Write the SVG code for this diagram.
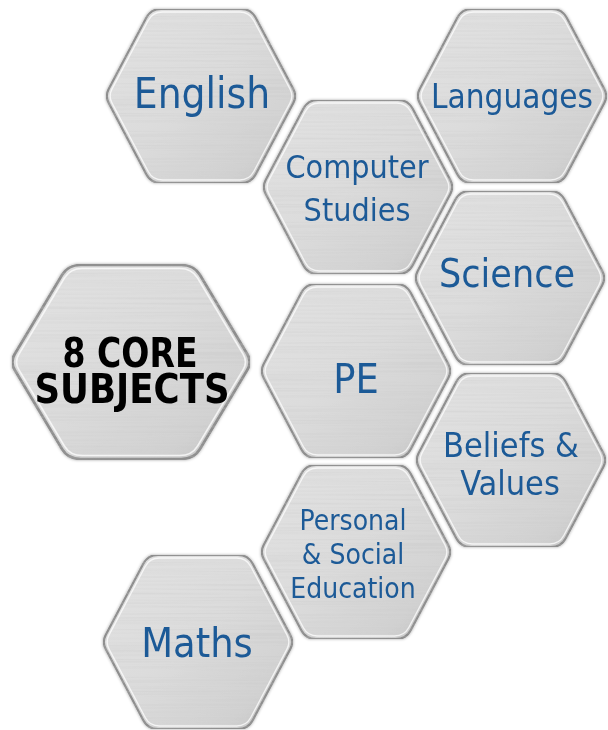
<svg xmlns="http://www.w3.org/2000/svg" xmlns:xlink="http://www.w3.org/1999/xlink" width="608" height="730" viewBox="0 0 608 730">
<defs>
  <linearGradient id="metal" x1="0" y1="0" x2="1" y2="1">
    <stop offset="0" stop-color="#e2e2e2"/>
    <stop offset="0.45" stop-color="#dcdcdc"/>
    <stop offset="0.8" stop-color="#d2d2d2"/>
    <stop offset="1" stop-color="#c4c4c4"/>
  </linearGradient>
  <filter id="brush" x="0" y="0" width="1" height="1">
    <feTurbulence type="fractalNoise" baseFrequency="0.004 0.45" numOctaves="2" seed="4" result="n"/>
    <feColorMatrix in="n" type="matrix" values="0 0 0 0 0.55  0 0 0 0 0.55  0 0 0 0 0.55  0.7 0 0 0 -0.3" result="g"/>
    <feComposite in="g" in2="SourceGraphic" operator="in" result="t"/>
    <feMerge><feMergeNode in="SourceGraphic"/><feMergeNode in="t"/></feMerge>
  </filter>
  <filter id="shadow" x="-10%" y="-10%" width="120%" height="120%">
    <feDropShadow dx="0" dy="0" stdDeviation="1.6" flood-color="#000" flood-opacity="0.35"/>
  </filter>
  <path id="hex" d="M -40,-87 L 40,-87 Q 50,-87 54.7,-78.2 L 92.3,-7.1 Q 96,0 92.3,7.1 L 54.7,78.2 Q 50,87 40,87 L -40,87 Q -50,87 -54.7,78.2 L -92.3,7.1 Q -96,0 -92.3,-7.1 L -54.7,-78.2 Q -50,-87 -40,-87 Z"/>
  <g id="tile">
    <use xlink:href="#hex" href="#hex" class="plate"/>
    <use xlink:href="#hex" href="#hex" class="rim" transform="scale(0.965)"/>
  </g>
</defs>
<style>
  .plate { fill: url(#metal); stroke: #8e8e8e; stroke-width: 2.2; filter: url(#brush); }
  .rim { fill: none; stroke: #ffffff; stroke-opacity: 0.75; stroke-width: 1.4; }
  .node { filter: url(#shadow); }
  .lbl { font-family: "DejaVu Sans Condensed", "DejaVu Sans", Tahoma, sans-serif; font-stretch: condensed; fill: #1d5a97; text-anchor: middle; }
  .core { font-family: "DejaVu Sans Condensed", "DejaVu Sans", Tahoma, sans-serif; font-stretch: condensed; font-weight: bold; fill: #000; text-anchor: middle; font-size: 41px; }
</style>
<rect width="608" height="730" fill="#ffffff"/>
<g id="connectors"/>
<g id="english" class="node">
  <use href="#tile" xlink:href="#tile" transform="translate(201,96)"/>
  <text class="lbl" x="202" y="108" font-size="42">English</text>
</g>
<g id="languages" class="node">
  <use href="#tile" xlink:href="#tile" transform="translate(512,96)"/>
  <text class="lbl" x="512" y="108" font-size="33">Languages</text>
</g>
<g id="computer-studies" class="node">
  <use href="#tile" xlink:href="#tile" transform="translate(358,187)"/>
  <text class="lbl" x="357" y="178" font-size="32">Computer</text>
  <text class="lbl" x="357" y="221" font-size="32">Studies</text>
</g>
<g id="science" class="node">
  <use href="#tile" xlink:href="#tile" transform="translate(510,278)"/>
  <text class="lbl" x="507" y="287" font-size="39">Science</text>
</g>
<g id="core-subjects" class="node">
  <use href="#tile" xlink:href="#tile" transform="translate(131,362) scale(1.26,1.115)"/>
  <text class="core" x="130" y="367" textLength="135" lengthAdjust="spacingAndGlyphs">8 CORE</text>
  <text class="core" x="132" y="403" textLength="195" lengthAdjust="spacingAndGlyphs">SUBJECTS</text>
</g>
<g id="pe" class="node">
  <use href="#tile" xlink:href="#tile" transform="translate(356,371)"/>
  <text class="lbl" x="356" y="393" font-size="41">PE</text>
</g>
<g id="beliefs-values" class="node">
  <use href="#tile" xlink:href="#tile" transform="translate(511,460)"/>
  <text class="lbl" x="511" y="457" font-size="34">Beliefs &amp;</text>
  <text class="lbl" x="510" y="495" font-size="34">Values</text>
</g>
<g id="personal-social" class="node">
  <use href="#tile" xlink:href="#tile" transform="translate(356,552)"/>
  <text class="lbl" x="353" y="530" font-size="28">Personal</text>
  <text class="lbl" x="353" y="564" font-size="28">&amp; Social</text>
  <text class="lbl" x="353" y="598" font-size="28">Education</text>
</g>
<g id="maths" class="node">
  <use href="#tile" xlink:href="#tile" transform="translate(198,642)"/>
  <text class="lbl" x="197" y="657" font-size="41">Maths</text>
</g>
</svg>
